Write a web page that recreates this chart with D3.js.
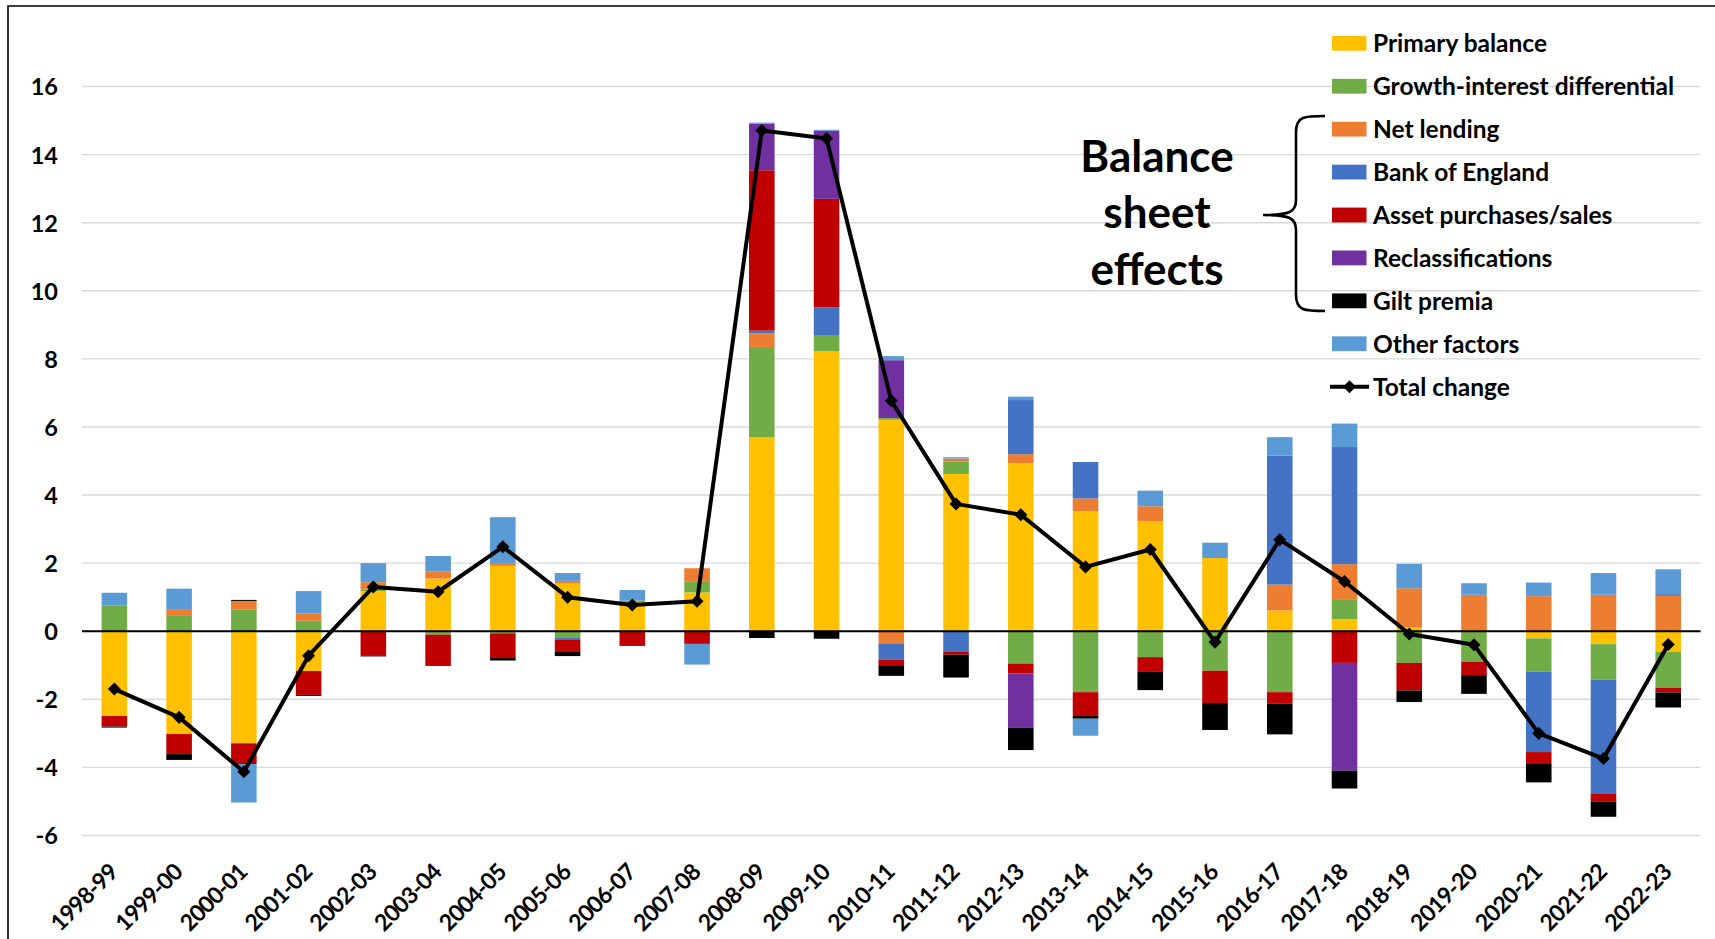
<!DOCTYPE html>
<html>
<head>
<meta charset="utf-8">
<script src="https://cdn.jsdelivr.net/npm/d3@7/dist/d3.min.js"></script>
<style>
  html, body { margin: 0; padding: 0; background: #fff; }
  svg { display: block; }
  text { font-family: Lato, "Open Sans", sans-serif; font-weight: 700; fill: #000; }
</style>
</head>
<body>
<svg id="chart" width="1715" height="939"></svg>
<script>
// ---------------- DATA ----------------
const categories = ["1998-99","1999-00","2000-01","2001-02","2002-03","2003-04","2004-05","2005-06","2006-07","2007-08","2008-09","2009-10","2010-11","2011-12","2012-13","2013-14","2014-15","2015-16","2016-17","2017-18","2018-19","2019-20","2020-21","2021-22","2022-23"];

const seriesNames = ["Primary balance","Growth-interest differential","Net lending","Bank of England","Asset purchases/sales","Reclassifications","Gilt premia","Other factors"];
const seriesColors = ["#FFC000","#70AD47","#ED7D31","#4472C4","#C00000","#7030A0","#000000","#5B9BD5"];

const primaryBalance    = [-2.49,-3.02,-3.28,-1.17,1.18,1.55,1.92,1.40,0.86,1.14,5.70,8.23,6.21,4.62,4.94,3.52,3.23,2.15,0.61,0.36,0.12,-0.02,-0.21,-0.38,-0.60];
const growthInterest    = [0.75,0.45,0.63,0.31,0.04,-0.10,-0.06,-0.20,0.04,0.31,2.65,0.47,0.05,0.36,-0.95,-1.79,-0.76,-1.16,-1.79,0.56,-0.93,-0.88,-0.98,-1.04,-1.06];
const netLending        = [0,0.20,0.26,0.21,0.22,0.21,0.06,0.08,0,0.40,0.40,0,-0.36,0.09,0.26,0.38,0.44,0,0.76,1.05,1.14,1.07,1.03,1.07,1.04];
const bankOfEngland     = [0,0,-0.03,0,0,0,0,-0.04,0,0,0.08,0.81,-0.48,-0.61,1.59,1.07,0,0,3.79,3.44,0,0,-2.36,-3.36,0.05];
const assetPurchases    = [-0.31,-0.59,-0.59,-0.70,-0.71,-0.92,-0.73,-0.35,-0.41,-0.35,4.71,3.19,-0.16,-0.08,-0.29,-0.70,-0.42,-0.95,-0.34,-0.93,-0.81,-0.39,-0.35,-0.22,-0.14];
const reclassifications = [0,0,0,0,0,0,0,0,0,0,1.37,2.00,1.70,0,-1.59,0,0,0,0,-3.17,0,0,0,0,0];
const giltPremia        = [-0.03,-0.17,0.03,-0.03,-0.03,0,-0.07,-0.14,-0.02,-0.02,-0.20,-0.22,-0.31,-0.67,-0.66,-0.08,-0.55,-0.79,-0.90,-0.52,-0.34,-0.55,-0.54,-0.45,-0.44];
const otherFactors      = [0.38,0.60,-1.13,0.66,0.56,0.45,1.37,0.23,0.31,-0.61,0.03,0.03,0.12,0.04,0.10,-0.50,0.46,0.45,0.54,0.69,0.72,0.34,0.40,0.64,0.73];
const totalChange       = [-1.70,-2.53,-4.13,-0.72,1.30,1.16,2.48,1.00,0.77,0.88,14.71,14.47,6.77,3.74,3.42,1.89,2.40,-0.32,2.69,1.46,-0.08,-0.40,-3.00,-3.74,-0.39];

const yTicks = [-6,-4,-2,0,2,4,6,8,10,12,14,16];
const annotationLines = ["Balance","sheet","effects"];
const totalLabel = "Total change";

// ---------------- BUILD ----------------
const seriesValues = [primaryBalance, growthInterest, netLending, bankOfEngland, assetPurchases, reclassifications, giltPremia, otherFactors];
const table = categories.map((c, i) => {
  const row = { category: c };
  seriesNames.forEach((n, k) => row[n] = seriesValues[k][i]);
  return row;
});

const svg = d3.select("#chart");

const x = d3.scaleBand()
  .domain(categories)
  .range([82, 1700.6])
  .paddingInner(0.605)
  .paddingOuter(0.3025);

const y = d3.scaleLinear().domain([-6, 16]).range([835.5, 86.5]);

// frame
svg.append("path")
  .attr("d", "M8,945 L8,6 L1720,6")
  .attr("fill", "none").attr("stroke", "#000").attr("stroke-width", 1.6);

// gridlines
svg.append("g").selectAll("line").data(yTicks).join("line")
  .attr("x1", 82).attr("x2", 1700.6)
  .attr("y1", d => y(d)).attr("y2", d => y(d))
  .attr("stroke", "#d9d9d9").attr("stroke-width", 1.4);

// y axis labels
const yAxis = d3.axisLeft(y).tickValues(yTicks).tickSize(0).tickPadding(0).tickFormat(d => String(d));
const gy = svg.append("g").attr("transform", "translate(58,0)").call(yAxis);
gy.select(".domain").remove();
gy.selectAll("text")
  .style("font-family", "Lato, sans-serif").style("font-weight", 700)
  .style("font-size", "23.5px").attr("fill", "#000").attr("dy", "0.36em");

// stacked bars
const stack = d3.stack().keys(seriesNames).offset(d3.stackOffsetDiverging);
const stacked = stack(table);

svg.append("g").selectAll("g").data(stacked).join("g")
  .attr("fill", (d, i) => seriesColors[i])
  .selectAll("rect").data(d => d).join("rect")
  .attr("x", d => x(d.data.category))
  .attr("width", x.bandwidth())
  .attr("y", d => y(Math.max(d[0], d[1])))
  .attr("height", d => Math.abs(y(d[0]) - y(d[1])));

// zero axis line
svg.append("line")
  .attr("x1", 82).attr("x2", 1700.6)
  .attr("y1", y(0)).attr("y2", y(0))
  .attr("stroke", "#000").attr("stroke-width", 2);

// x axis labels
const xAxis = d3.axisBottom(x).tickSize(0).tickPadding(0);
const gx = svg.append("g").attr("transform", "translate(0,868)").call(xAxis);
gx.select(".domain").remove();
gx.selectAll("text")
  .style("font-family", "Lato, sans-serif").style("font-weight", 700)
  .style("font-size", "23px").style("letter-spacing", "-0.8px").attr("fill", "#000")
  .attr("text-anchor", "end")
  .attr("y", 0).attr("x", 0).attr("dy", "0.35em")
  .attr("transform", "translate(-1,0) rotate(-45)");

// total change line
const cx = d => x(d) + x.bandwidth() / 2;
const line = d3.line().x((d, i) => cx(categories[i])).y(d => y(d));
svg.append("path").datum(totalChange)
  .attr("d", line).attr("fill", "none")
  .attr("stroke", "#000").attr("stroke-width", 4).attr("stroke-linejoin", "round");

const diamond = d3.symbol().type(d3.symbolSquare).size(85);
svg.append("g").selectAll("path").data(totalChange).join("path")
  .attr("d", diamond)
  .attr("transform", (d, i) => `translate(${cx(categories[i])},${y(d)}) rotate(45)`)
  .attr("fill", "#000");

// legend
const legend = svg.append("g");
const legY = d3.scaleLinear().domain([0, 8]).range([43.3, 386.7]);
seriesNames.forEach((n, i) => {
  legend.append("rect")
    .attr("x", 1332).attr("y", legY(i) - 7.4)
    .attr("width", 34.5).attr("height", 14.8)
    .attr("fill", seriesColors[i]);
  legend.append("text")
    .attr("x", 1373).attr("y", legY(i)).attr("dy", "0.36em")
    .style("font-size", "24.5px").text(n);
});
legend.append("line")
  .attr("x1", 1330).attr("x2", 1369)
  .attr("y1", legY(8)).attr("y2", legY(8))
  .attr("stroke", "#000").attr("stroke-width", 4);
legend.append("path").attr("d", diamond)
  .attr("transform", `translate(1349.5,${legY(8)}) rotate(45)`).attr("fill", "#000");
legend.append("text")
  .attr("x", 1373).attr("y", legY(8)).attr("dy", "0.36em")
  .style("font-size", "24.5px").text(totalLabel);

// brace
svg.append("path")
  .attr("d", "M1325,116 C1305,116 1296,116 1296,132 L1296,200 C1296,212 1290,215 1263,215 C1290,215 1296,218 1296,230 L1296,295 C1296,311 1305,311 1325,311")
  .attr("fill", "none").attr("stroke", "#000").attr("stroke-width", 2.6);

// annotation
const ann = svg.append("g");
annotationLines.forEach((t, i) => {
  ann.append("text")
    .attr("x", 1157).attr("y", 171.7 + i * 56.7)
    .attr("text-anchor", "middle")
    .style("font-size", "44px").text(t);
});
</script>
</body>
</html>
